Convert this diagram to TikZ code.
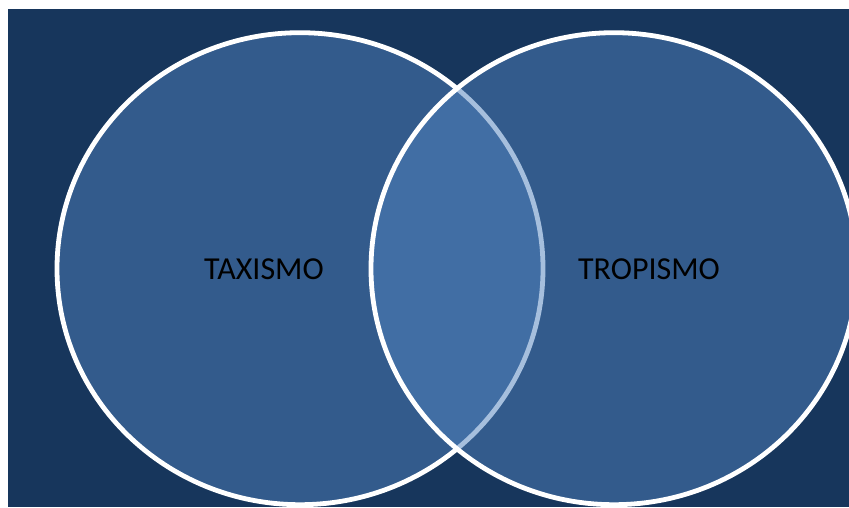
\documentclass[tikz,border=0pt]{standalone}
\usepackage{fontspec}
\setmainfont{Carlito}
\definecolor{panelbg}{HTML}{17365C}
\definecolor{setfill}{HTML}{4F81BD}
\begin{document}
\begin{tikzpicture}[x=1pt,y=1pt,
  setcircle/.style={fill=setfill,fill opacity=0.5,draw=white,draw opacity=1,line width=4.8pt},
  setlabel/.style={font=\fontsize{32}{38}\selectfont,text=black,inner sep=0pt}]
  \useasboundingbox (0,0) rectangle (849,507);
  \clip (0,0) rectangle (849,507);
  % dark panel
  \fill[panelbg] (8,0) rectangle (849,498);
  % the two overlapping sets
  \draw[setcircle] (300,238.3) ellipse [x radius=243, y radius=236];
  \draw[setcircle] (614,238.3) ellipse [x radius=243, y radius=236];
  % labels
  \node[setlabel] (taxismo) at (264,238) {TAXISMO};
  \node[setlabel] (tropismo) at (649,238) {TROPISMO};
\end{tikzpicture}
\end{document}
